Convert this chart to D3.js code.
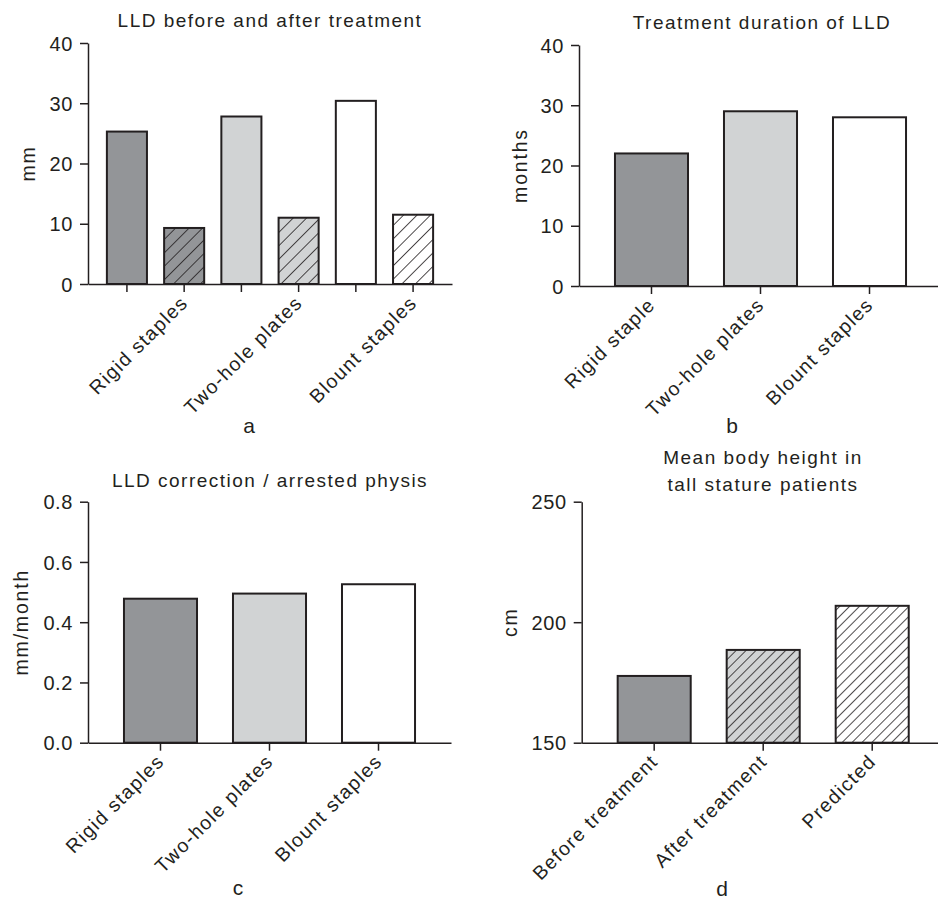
<!DOCTYPE html>
<html>
<head>
<meta charset="utf-8">
<script src="https://cdn.jsdelivr.net/npm/d3@7"></script>
<style>
  html, body { margin: 0; padding: 0; background: #fff; }
  svg { display: block; font-family: "Liberation Sans", Arial, Helvetica, sans-serif; }
</style>
</head>
<body>
<svg id="chart" width="938" height="899"></svg>
<script>
// values
var lldCategories = ["Rigid staples", "Two-hole plates", "Blount staples"];
var lldBefore = [25.3, 27.8, 30.4];
var lldAfter = [9.3, 11.0, 11.5];

var durationCategories = ["Rigid staple", "Two-hole plates", "Blount staples"];
var durationMonths = [22, 29, 28];

var correctionCategories = ["Rigid staples", "Two-hole plates", "Blount staples"];
var correctionRate = [0.478, 0.495, 0.526];

var heightCategories = ["Before treatment", "After treatment", "Predicted"];
var heightCm = [177.7, 188.5, 206.8];

var shades = ["#939598", "#d1d3d4", "#ffffff"];
var ink = "#231f20";

var svg = d3.select("#chart");
var defs = svg.append("defs");

function makeHatch(id, fill, gap) {
    var p = defs.append("pattern")
        .attr("id", id)
        .attr("patternUnits", "userSpaceOnUse")
        .attr("width", gap)
        .attr("height", gap)
        .attr("patternTransform", "rotate(45)");
    p.append("rect").attr("width", gap).attr("height", gap).attr("fill", fill);
    p.append("line")
        .attr("x1", 0).attr("y1", 0).attr("x2", 0).attr("y2", gap)
        .attr("stroke", ink).attr("stroke-width", 1.6);
    return "url(#" + id + ")";
}

function drawPanel(cfg) {
    var g = svg.append("g");
    var n = cfg.bars.length;

    var y = d3.scaleLinear().domain(cfg.yDomain).range([cfg.yBottom, cfg.yTop]);
    var x = d3.scaleBand()
        .domain(d3.range(n))
        .range([cfg.x0, cfg.x0 + cfg.xWidth])
        .paddingInner(cfg.padIn)
        .paddingOuter(cfg.padOut);

    g.selectAll(".bar")
        .data(cfg.bars)
        .join("rect")
        .attr("class", "bar")
        .attr("x", function(d, i) { return x(i); })
        .attr("y", function(d) { return y(d.value); })
        .attr("width", x.bandwidth())
        .attr("height", function(d) { return y(cfg.yDomain[0]) - y(d.value); })
        .attr("fill", function(d) { return d.fill; })
        .attr("stroke", ink)
        .attr("stroke-width", 2);

    var yAxis = g.append("g")
        .attr("transform", "translate(" + cfg.x0 + ",0)")
        .call(d3.axisLeft(y)
            .tickValues(cfg.yTicks)
            .tickFormat(cfg.fmt)
            .tickSize(8)
            .tickPadding(7)
            .tickSizeOuter(0));

    var xAxis = g.append("g")
        .attr("transform", "translate(0," + cfg.yBottom + ")")
        .call(d3.axisBottom(x)
            .tickFormat("")
            .tickSize(8)
            .tickSizeOuter(0));

    g.selectAll(".domain, .tick line")
        .attr("stroke", ink)
        .attr("stroke-width", 1.5);
    yAxis.selectAll(".tick text")
        .attr("fill", ink)
        .style("font-size", "20px")
        .style("letter-spacing", "0.6px")
        .attr("dy", "0.36em");

    // category labels, rotated
    g.selectAll(".cat")
        .data(cfg.labels)
        .join("text")
        .attr("class", "cat")
        .attr("transform", function(d) {
            var cx = x(d.at) + x.bandwidth() / 2 + 5;
            return "translate(" + cx + "," + (cfg.yBottom + 20) + ") rotate(-45)";
        })
        .attr("text-anchor", "end")
        .attr("fill", ink)
        .style("font-size", "19.5px")
        .style("letter-spacing", "1.4px")
        .text(function(d) { return d.text; });

    g.selectAll(".title")
        .data(cfg.title)
        .join("text")
        .attr("class", "title")
        .attr("x", cfg.titleX)
        .attr("y", function(d, i) { return cfg.titleY + i * 27; })
        .attr("text-anchor", "middle")
        .attr("fill", ink)
        .style("font-size", "19px")
        .style("letter-spacing", "1.5px")
        .text(function(d) { return d; });

    g.append("text")
        .attr("transform", "translate(" + cfg.yLabelX + "," + (cfg.yTop + cfg.yBottom) / 2 + ") rotate(-90)")
        .attr("text-anchor", "middle")
        .attr("fill", ink)
        .style("font-size", "19.5px")
        .style("letter-spacing", "1.8px")
        .text(cfg.yLabel);

    g.append("text")
        .attr("x", cfg.letterX)
        .attr("y", cfg.letterY)
        .attr("text-anchor", "middle")
        .attr("fill", ink)
        .style("font-size", "21px")
        .text(cfg.letter);
}

// a: LLD before / after
var barsA = [];
lldCategories.forEach(function(c, i) {
    barsA.push({ value: lldBefore[i], fill: shades[i] });
    barsA.push({ value: lldAfter[i], fill: makeHatch("hatchA" + i, shades[i], 9.5) });
});
drawPanel({
    bars: barsA,
    labels: lldCategories.map(function(c, i) { return { text: c, at: i * 2 + 1 }; }),
    yDomain: [0, 40], yTicks: [0, 10, 20, 30, 40], fmt: d3.format("d"),
    x0: 88, xWidth: 364, yTop: 43, yBottom: 284, padIn: 0.3, padOut: 0.33,
    title: ["LLD before and after treatment"], titleX: 270, titleY: 27,
    yLabel: "mm", yLabelX: 35,
    letter: "a", letterX: 249, letterY: 433
});

// b: duration
drawPanel({
    bars: durationMonths.map(function(v, i) { return { value: v, fill: shades[i] }; }),
    labels: durationCategories.map(function(c, i) { return { text: c, at: i }; }),
    yDomain: [0, 40], yTicks: [0, 10, 20, 30, 40], fmt: d3.format("d"),
    x0: 579, xWidth: 363, yTop: 45, yBottom: 286, padIn: 0.33, padOut: 0.33,
    title: ["Treatment duration of LLD"], titleX: 762, titleY: 29,
    yLabel: "months", yLabelX: 527,
    letter: "b", letterX: 732, letterY: 433
});

// c: correction rate
drawPanel({
    bars: correctionRate.map(function(v, i) { return { value: v, fill: shades[i] }; }),
    labels: correctionCategories.map(function(c, i) { return { text: c, at: i }; }),
    yDomain: [0, 0.8], yTicks: [0, 0.2, 0.4, 0.6, 0.8], fmt: d3.format(".1f"),
    x0: 88, xWidth: 363, yTop: 501.7, yBottom: 742.7, padIn: 0.33, padOut: 0.33,
    title: ["LLD correction / arrested physis"], titleX: 270, titleY: 487,
    yLabel: "mm/month", yLabelX: 28,
    letter: "c", letterX: 238, letterY: 895
});

// d: body height
var fillsD = [shades[0], makeHatch("hatchD1", shades[1], 7), makeHatch("hatchD2", shades[2], 7)];
drawPanel({
    bars: heightCm.map(function(v, i) { return { value: v, fill: fillsD[i] }; }),
    labels: heightCategories.map(function(c, i) { return { text: c, at: i }; }),
    yDomain: [150, 250], yTicks: [150, 200, 250], fmt: d3.format("d"),
    x0: 581.7, xWidth: 363, yTop: 501.7, yBottom: 742.7, padIn: 0.33, padOut: 0.33,
    title: ["Mean body height in", "tall stature patients"], titleX: 763, titleY: 464,
    yLabel: "cm", yLabelX: 517,
    letter: "d", letterX: 722, letterY: 896
});
</script>
</body>
</html>
